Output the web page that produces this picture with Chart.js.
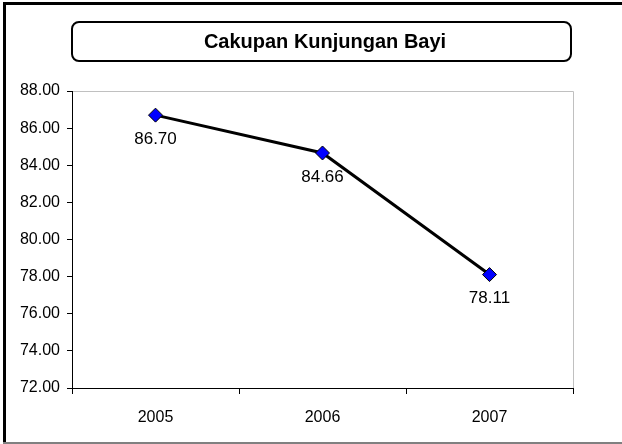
<!DOCTYPE html>
<html>
<head>
<meta charset="utf-8">
<script src="https://cdn.jsdelivr.net/npm/chart.js@4/dist/chart.umd.min.js"></script>
<style>
  body { margin: 0; background: #fff; }
  canvas { display: block; }
</style>
</head>
<body>
<canvas id="c" width="622" height="444"></canvas>
<script>
const chartTitle = "Cakupan Kunjungan Bayi";
const years = ["2005", "2006", "2007"];
const coverage = [86.70, 84.66, 78.11];
const yMin = 72, yMax = 88, yStep = 2;

const FONT = "'Liberation Sans', Arial, sans-serif";

// frame, title box, plot border and value labels
const decor = {
  id: "decor",
  beforeDraw(chart) {
    const ctx = chart.ctx;
    const a = chart.chartArea;
    ctx.save();
    ctx.fillStyle = "#fff";
    ctx.fillRect(0, 0, chart.width, chart.height);
    // plot area border (light gray top/right)
    ctx.strokeStyle = "#c0c0c0";
    ctx.lineWidth = 1;
    ctx.beginPath();
    ctx.moveTo(a.left, a.top + 0.5);
    ctx.lineTo(a.right + 0.5, a.top + 0.5);
    ctx.lineTo(a.right + 0.5, a.bottom);
    ctx.stroke();
    ctx.restore();
  },
  afterDraw(chart) {
    const ctx = chart.ctx;
    ctx.save();
    // outer frame
    ctx.fillStyle = "#000";
    ctx.fillRect(3, 2, chart.width - 3, 3);
    ctx.fillRect(3, 2, 3, chart.height - 2);
    ctx.fillStyle = "#808080";
    ctx.fillRect(3, chart.height - 2, chart.width - 3, 2);

    // title box
    ctx.strokeStyle = "#000";
    ctx.lineWidth = 2;
    ctx.beginPath();
    ctx.roundRect(72, 22, 499, 39, 7);
    ctx.stroke();
    ctx.fillStyle = "#000";
    ctx.font = "bold 20px " + FONT;
    ctx.textAlign = "center";
    ctx.textBaseline = "middle";
    ctx.fillText(chartTitle, 325, 42);

    // value labels under points
    ctx.font = "17px " + FONT;
    const meta = chart.getDatasetMeta(0);
    meta.data.forEach((pt, i) => {
      ctx.fillText(coverage[i].toFixed(2), pt.x, pt.y + 24);
    });
    ctx.restore();
  }
};

new Chart(document.getElementById("c"), {
  type: "line",
  data: {
    labels: years,
    datasets: [{
      data: coverage,
      borderColor: "#000",
      borderWidth: 3,
      tension: 0,
      pointStyle: "rectRot",
      pointRadius: 7,
      pointBackgroundColor: "#0000ff",
      pointBorderColor: "#000",
      pointBorderWidth: 1
    }]
  },
  options: {
    responsive: false,
    animation: false,
    layout: { padding: { left: 0, right: 49, top: 91, bottom: 0 } },
    plugins: {
      legend: { display: false },
      title: { display: false },
      tooltip: { enabled: false }
    },
    scales: {
      x: {
        offset: true,
        grid: {
          offset: true,
          drawOnChartArea: false,
          color: "#000",
          tickLength: 6
        },
        border: { color: "#000", width: 1 },
        ticks: { color: "#000", font: { family: FONT, size: 16 }, padding: 14 },
        afterFit(s) { s.height = 56; }
      },
      y: {
        min: yMin,
        max: yMax,
        grid: {
          drawOnChartArea: false,
          color: "#000",
          tickLength: 5
        },
        border: { color: "#000", width: 1 },
        ticks: {
          stepSize: yStep,
          color: "#000",
          font: { family: FONT, size: 16 },
          padding: 7,
          callback: v => v.toFixed(2)
        },
        afterFit(s) { s.width = 72; }
      }
    }
  },
  plugins: [decor]
});
</script>
</body>
</html>
